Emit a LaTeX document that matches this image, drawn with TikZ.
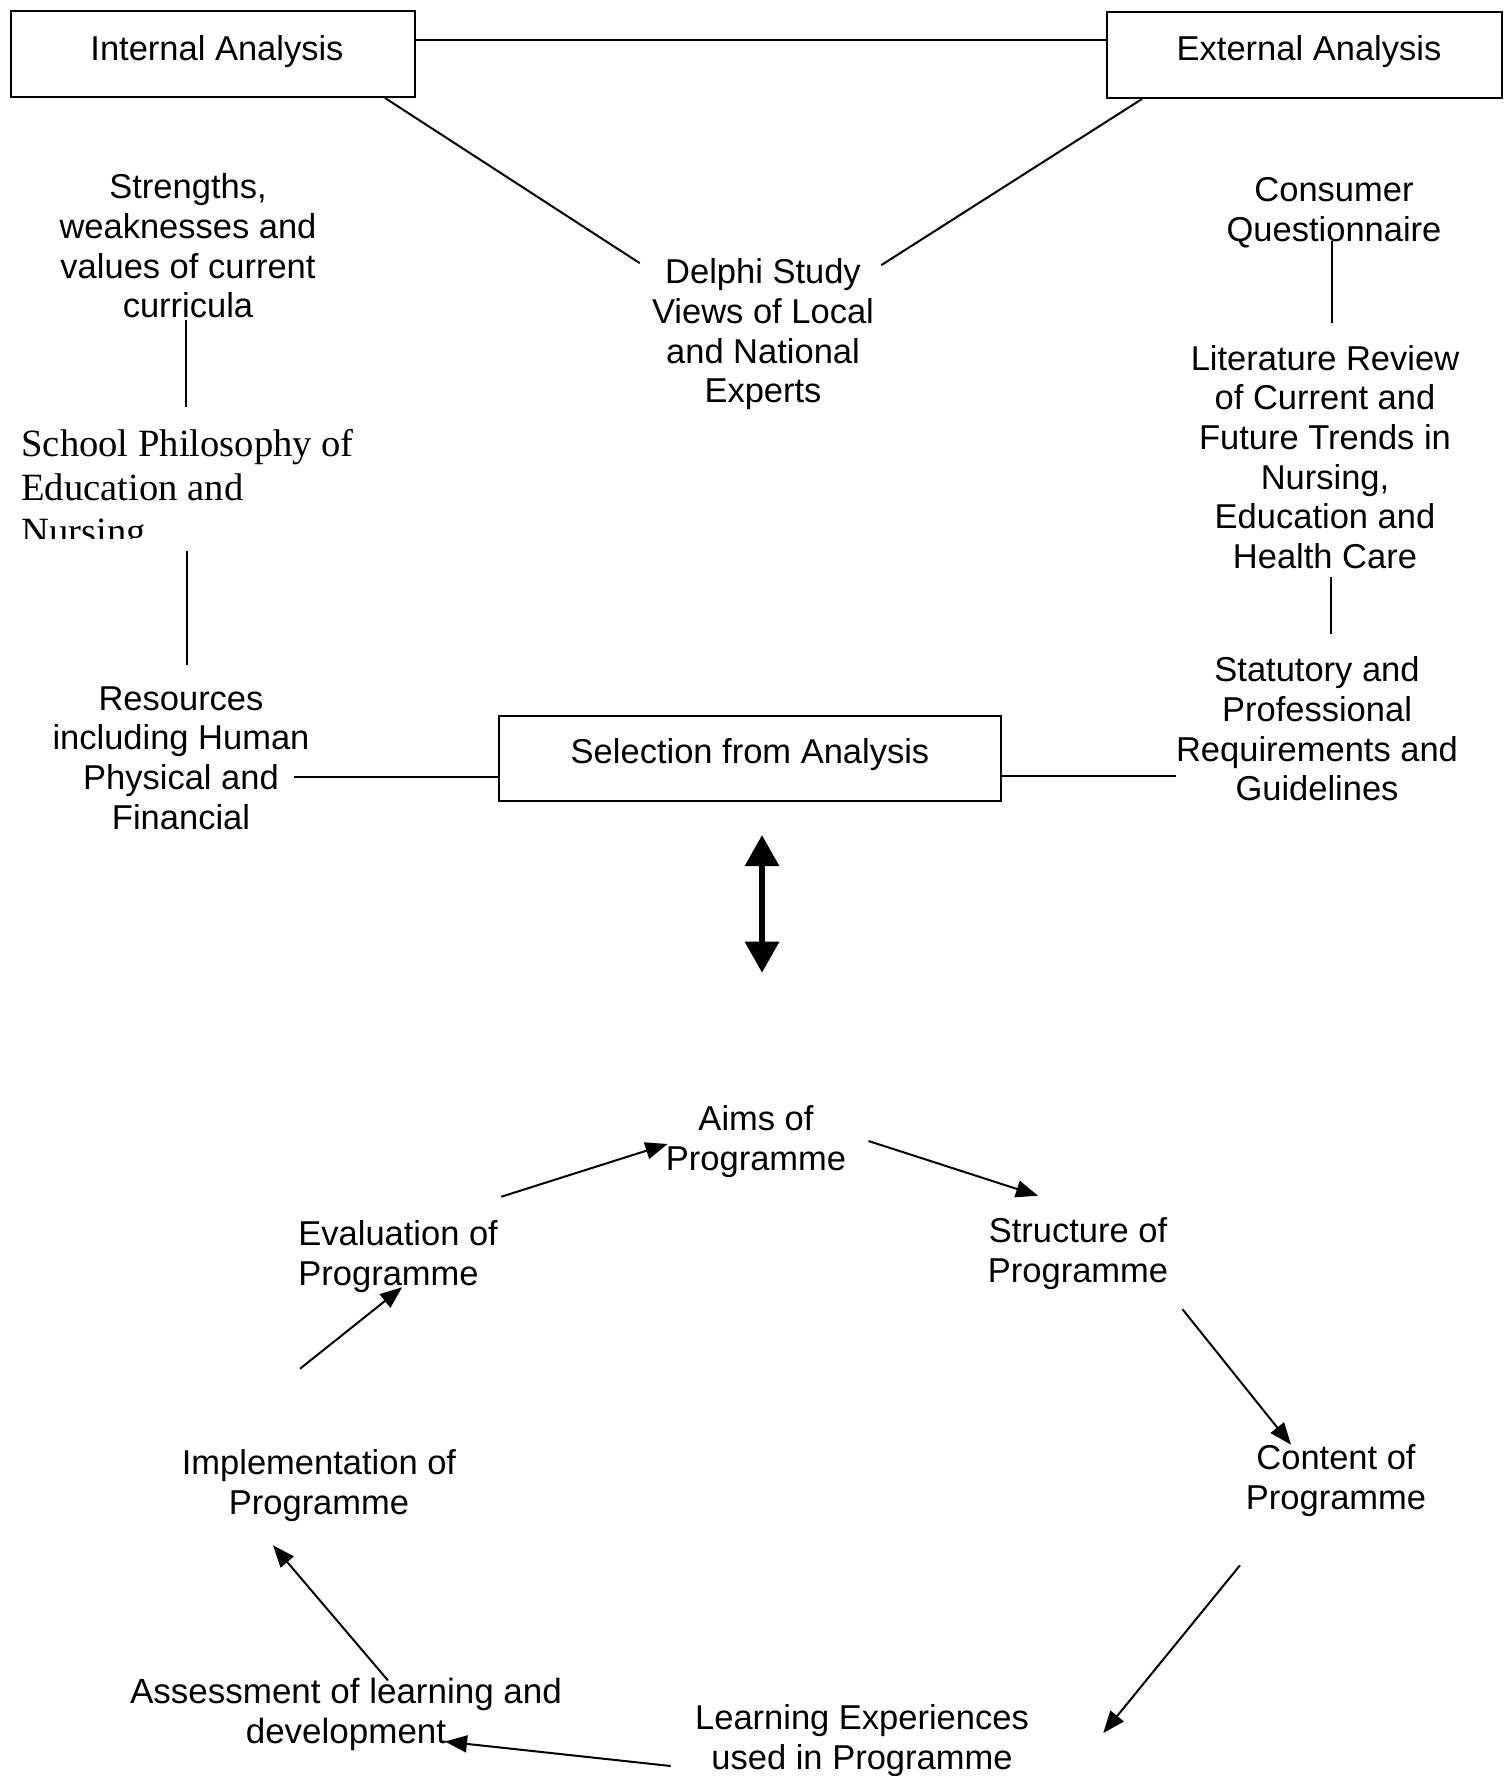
\documentclass[tikz,border=0pt]{standalone}
\usepackage{fontspec}
\setmainfont{Liberation Sans}
\newfontfamily\serifA{Liberation Serif}
\usetikzlibrary{arrows.meta,calc}
\begin{document}
\begin{tikzpicture}[x=0.5pt,y=-0.5pt,
  txt/.style={font=\fontsize{17.25}{19.8}\selectfont, align=center, inner sep=0pt},
  boxA/.style={draw, line width=1pt, inner sep=0pt, font=\fontsize{17.25}{19.8}\selectfont},
  conn/.style={line width=1pt},
  arr/.style={line width=1pt, -{Triangle[length=11pt,width=8.5pt]}},
  bigarr/.style={line width=3pt, {Triangle[length=15.5pt,width=16.5pt]}-{Triangle[length=15.5pt,width=16.5pt]}}
]
\useasboundingbox (0,0) rectangle (1507,1776);

% boxes
\node[boxA, minimum width=202pt, text height=24.9pt, text depth=18.1pt] (int) at (213,54) {\hspace*{4pt}Internal Analysis};
\node[boxA, minimum width=197.5pt, text height=24.4pt, text depth=18.6pt] (ext) at (1304.5,55) {\hspace*{4.5pt}External Analysis};
\node[boxA, minimum width=251pt, text height=23.5pt, text depth=19pt] (sel) at (750,758.5) {Selection from Analysis};

% text nodes
\node[txt] (str) at (188,246) {Strengths,\\weaknesses and\\values of current\\curricula};
\node[txt] (delphi) at (763,334.4) {Delphi Study\\Views of Local\\and National\\Experts};
\node[txt] (cons) at (1334,212.5) {Consumer\\Questionnaire};
\node[txt] (lit) at (1325,457) {Literature Review\\of Current and\\Future Trends in\\Nursing,\\Education and\\Health Care};
\node[txt] (res) at (181,758) {Resources\\including Human\\Physical and\\Financial};
\node[txt] (stat) at (1317,729) {Statutory and\\Professional\\Requirements and\\Guidelines};

\begin{scope}
  \clip (0,380) rectangle (420,538);
  \node[font={\serifA\fontsize{19.3}{22}\selectfont}, align=left, inner sep=0pt, anchor=north west] (school) at (21,429) {School Philosophy of\\Education and\\Nursing};
\end{scope}

\node[txt] (aims) at (756,1141.5) {Aims of\\Programme};
\node[txt] (struct) at (1078,1253.5) {Structure of\\Programme};
\node[txt] (cont) at (1336,1480.5) {Content of\\Programme};
\node[txt] (learn) at (862,1740.5) {Learning Experiences\\used in Programme};
\node[txt, font=\fontsize{17.5}{19.8}\selectfont] (assess) at (346,1714.5) {Assessment of learning and\\development};
\node[txt] (impl) at (319,1485.5) {Implementation of\\Programme};
\node[txt, align=left, anchor=west] (eval) at (298,1256.5) {Evaluation of\\Programme};

% top connectors
\draw[conn] ($(int.east)+(0,-14)$) coordinate (ie) -- (ie -| ext.west);
\draw[conn] ($(int.south)+(172,0)$) -- ($(delphi.north west)+(-12,4.6)$);
\draw[conn] ($(ext.south)+(-162.5,0)$) -- ($(delphi.north east)+(7,6.6)$);
\draw[conn] ($(str.south)+(-2,2)$) coordinate (s1) -- ($(s1 |- school.north)+(0,-22)$);
\draw[conn] ($(school.south west)+(166,-2)$) coordinate (s2) -- ($(s2 |- res.north)+(0,-21)$);
\draw[conn] ($(res.east)+(-16,19)$) coordinate (r1) -- (r1 -| sel.west);
\draw[conn] ($(sel.east)+(0,17.5)$) coordinate (s3) -- (s3 -| stat.west);
\draw[conn] ($(cons.south)+(-2,-7.5)$) coordinate (c1) -- ($(c1 |- lit.north)+(0,-22)$);
\draw[conn] ($(lit.south)+(6,8)$) coordinate (l1) -- ($(l1 |- stat.north)+(0,-23)$);

% double arrow
\draw[bigarr] ($(sel.south)+(12,33)$) coordinate (d1) -- ($(d1 |- aims.north)+(0,-132.5)$);

% cycle
\draw[arr] ($(eval.north east)+(3,-23.5)$) -- ($(aims.west)+(2,2.5)$);
\draw[arr] ($(aims.east)+(22,-0.5)$) -- ($(struct.north)+(-40,-21.5)$);
\draw[arr] ($(struct.south east)+(14,19.5)$) -- ($(cont.north)+(-45,0.5)$);
\draw[arr] ($(cont.south)+(-96,48.5)$) -- ($(learn.east)+(74,-7.5)$);
\draw[arr] ($(learn.west)+(-24,25.5)$) -- ($(assess.south)+(99,-9.5)$);
\draw[arr] ($(assess.north)+(42,2.5)$) -- ($(impl.south)+(-46,23.5)$);
\draw[arr] ($(impl.north)+(-19,-80.5)$) -- ($(eval.south)+(4,-5.5)$);
\end{tikzpicture}
\end{document}
